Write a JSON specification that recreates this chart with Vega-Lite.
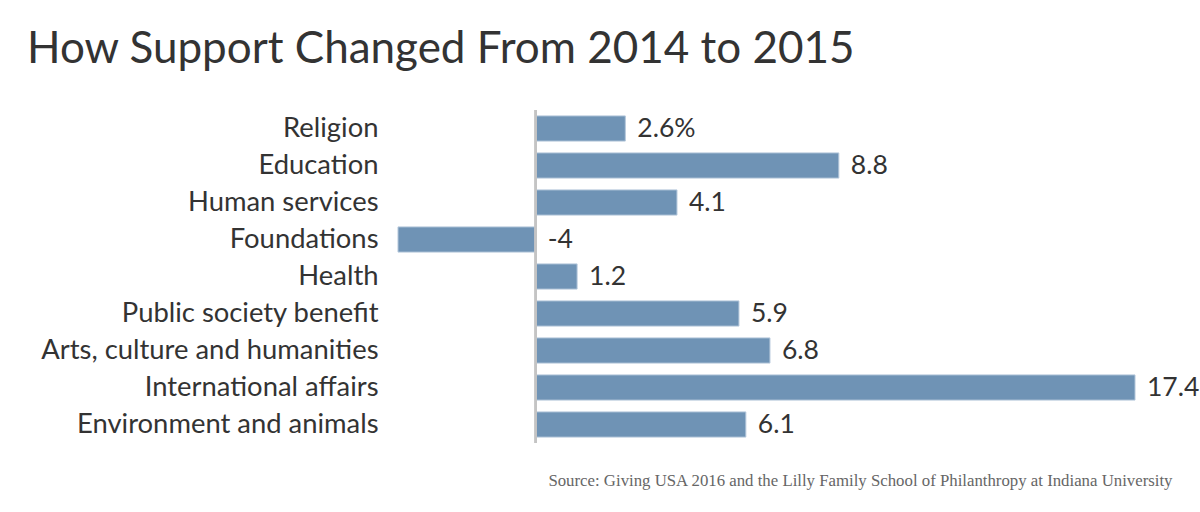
{
  "$schema": "https://vega.github.io/schema/vega-lite/v6.json",
  "autosize": {"type": "none"},
  "width": 737,
  "height": 333,
  "padding": {"left": 398, "top": 110, "right": 65, "bottom": 69},
  "background": "white",
  "title": {
    "text": "How Support Changed From 2014 to 2015",
    "anchor": "start",
    "frame": "group",
    "dx": -371,
    "offset": 2,
    "baseline": "alphabetic",
    "font": "Lato",
    "fontSize": 44,
    "fontWeight": "normal",
    "color": "#333333"
  },
  "data": {
    "values": [
      {"category": "Religion", "value": 2.6, "label": "2.6%"},
      {"category": "Education", "value": 8.8, "label": "8.8"},
      {"category": "Human services", "value": 4.1, "label": "4.1"},
      {"category": "Foundations", "value": -4, "label": "-4"},
      {"category": "Health", "value": 1.2, "label": "1.2"},
      {"category": "Public society benefit", "value": 5.9, "label": "5.9"},
      {"category": "Arts, culture and humanities", "value": 6.8, "label": "6.8"},
      {"category": "International affairs", "value": 17.4, "label": "17.4"},
      {"category": "Environment and animals", "value": 6.1, "label": "6.1"}
    ]
  },
  "config": {"view": {"stroke": null}},
  "layer": [
    {
      "mark": {"type": "bar", "color": "#6f93b5", "stroke": "#b3c6da", "strokeWidth": 1},
      "encoding": {
        "y": {
          "field": "category",
          "type": "nominal",
          "sort": null,
          "scale": {"paddingInner": 0.32, "paddingOuter": 0.16},
          "axis": {
            "title": null,
            "ticks": false,
            "domain": false,
            "labelPadding": 20,
            "labelFont": "Lato",
            "labelFontSize": 27.4,
            "labelColor": "#333333",
            "labelLimit": 500
          }
        },
        "x": {
          "field": "value",
          "type": "quantitative",
          "scale": {"domain": [-4, 17.4], "nice": false, "zero": false},
          "axis": {
            "labels": false,
            "ticks": false,
            "domain": false,
            "grid": false,
            "title": "Source: Giving USA 2016 and the Lilly Family School of Philanthropy at Indiana University",
            "titleFont": "Liberation Serif",
            "titleFontSize": 16.8,
            "titleFontWeight": "normal",
            "titleColor": "#666666",
            "titleX": 774,
            "titleY": 42,
            "titleAlign": "right",
            "titleAnchor": null,
            "titleBaseline": "alphabetic"
          }
        }
      }
    },
    {
      "mark": {"type": "rule", "color": "#c4c4c4", "strokeWidth": 2},
      "encoding": {"x": {"datum": 0}}
    },
    {
      "transform": [{"filter": "datum.value >= 0"}],
      "mark": {"type": "text", "align": "left", "baseline": "middle", "dx": 12, "font": "Lato", "fontSize": 26.5, "color": "#333333"},
      "encoding": {
        "y": {"field": "category", "type": "nominal", "sort": null},
        "x": {"field": "value", "type": "quantitative"},
        "text": {"field": "label"}
      }
    },
    {
      "transform": [{"filter": "datum.value < 0"}],
      "mark": {"type": "text", "align": "left", "baseline": "middle", "dx": 12, "font": "Lato", "fontSize": 26.5, "color": "#333333"},
      "encoding": {
        "y": {"field": "category", "type": "nominal", "sort": null},
        "x": {"datum": 0},
        "text": {"field": "label"}
      }
    }
  ]
}
